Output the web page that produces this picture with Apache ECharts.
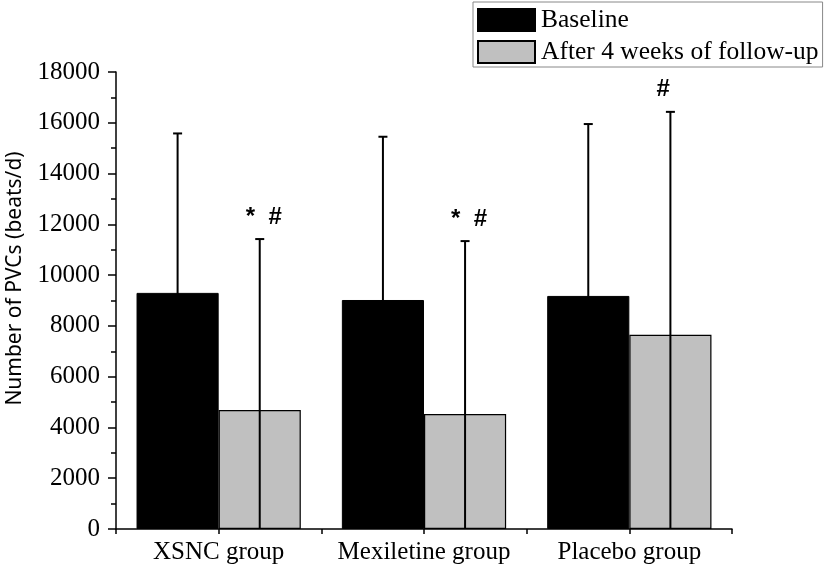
<!DOCTYPE html>
<html>
<head>
<meta charset="utf-8">
<script src="https://cdn.jsdelivr.net/npm/echarts@6/dist/echarts.min.js"></script>
<style>
html,body{margin:0;padding:0;background:#fff;}
#chart{width:827px;height:574px;}
</style>
</head>
<body>
<div id="chart"></div>
<script>
var categories = ['XSNC group', 'Mexiletine group', 'Placebo group'];
var seriesNames = ['Baseline', 'After 4 weeks of follow-up'];
var baselineMean = [9300, 9020, 9180];
var baselineSD = [6280, 6430, 6770];
var afterMean = [4690, 4530, 7650];
var afterSD = [6730, 6810, 8780];
var afterMarks = ['*  #', '*  #', '#'];
var yTicks = [0, 2000, 4000, 6000, 8000, 10000, 12000, 14000, 16000, 18000];

var chart = echarts.init(document.getElementById('chart'), null, {renderer: 'canvas'});

function errData(means, sds) {
  return means.map(function (m, i) { return [i, m, sds[i]]; });
}

function errRender(side) {
  return function (params, api) {
    var idx = api.value(0);
    var top = api.value(1) + api.value(2);
    var base = api.coord([idx, 0]);
    var catW = api.size([1, 0])[0];
    var x = base[0] + side * catW * 0.2;
    var yTop = api.coord([idx, top])[1];
    var style = {stroke: '#000', lineWidth: 2};
    return {
      type: 'group',
      children: [
        {type: 'line', shape: {x1: x, y1: base[1], x2: x, y2: yTop}, style: style},
        {type: 'line', shape: {x1: x - 4.5, y1: yTop, x2: x + 4.5, y2: yTop}, style: style}
      ]
    };
  };
}

var markData = afterMean.map(function (m, i) { return [i, m + afterSD[i], afterMarks[i]]; });

var option = {
  backgroundColor: '#fff',
  animation: false,
  grid: {left: 116, right: 95, top: 72, bottom: 45, outerBoundsMode: 'none', containLabel: false},
  legend: {
    orient: 'vertical',
    left: 473,
    top: 2,
    padding: [5, 4, 2, 4],
    itemGap: 6,
    itemWidth: 57,
    itemHeight: 22,
    borderColor: '#888',
    borderWidth: 1,
    icon: 'rect',
    data: seriesNames,
    textStyle: {fontFamily: 'Liberation Serif', fontSize: 25.5, color: '#000', padding: [0, 0, 0, 1]}
  },
  xAxis: [{
    type: 'category',
    data: categories,
    axisLine: {lineStyle: {color: '#000', width: 1.5}},
    axisTick: {show: true, length: 5, lineStyle: {color: '#000', width: 1.5}},
    axisLabel: {fontFamily: 'Liberation Serif', fontSize: 25, color: '#000', margin: 11, interval: 0}
  }, {
    type: 'category',
    data: categories,
    position: 'bottom',
    axisLine: {show: false},
    axisTick: {show: true, alignWithLabel: true, length: 5, lineStyle: {color: '#000', width: 1.5}},
    axisLabel: {show: false}
  }],
  yAxis: {
    type: 'value',
    min: 0,
    max: 18000,
    interval: 2000,
    name: 'Number of PVCs (beats/d)',
    nameLocation: 'middle',
    nameGap: 90,
    nameTextStyle: {fontFamily: 'Noto Sans', fontSize: 21, color: '#000', padding: [0, 0, 0, 44]},
    axisLine: {show: true, lineStyle: {color: '#000', width: 1.5}},
    axisTick: {show: true, length: 8, lineStyle: {color: '#000', width: 1.5}},
    minorTick: {show: true, splitNumber: 2, length: 5, lineStyle: {color: '#000', width: 1.5}},
    splitLine: {show: false},
    axisLabel: {
      fontFamily: 'Liberation Serif', fontSize: 25, color: '#000', margin: 16,
      formatter: function (v) { return yTicks.indexOf(v) >= 0 ? String(v) : ''; }
    }
  },
  series: [{
    name: seriesNames[0],
    type: 'bar',
    data: baselineMean,
    barGap: '0%',
    barCategoryGap: '20%',
    itemStyle: {color: '#000', borderColor: '#000', borderWidth: 1}
  }, {
    name: seriesNames[1],
    type: 'bar',
    data: afterMean,
    barGap: '0%',
    barCategoryGap: '20%',
    itemStyle: {color: '#c0c0c0', borderColor: '#000', borderWidth: 1.2}
  }, {
    type: 'custom',
    name: 'err0',
    renderItem: errRender(-1),
    data: errData(baselineMean, baselineSD),
    z: 5
  }, {
    type: 'custom',
    name: 'err1',
    renderItem: errRender(1),
    data: errData(afterMean, afterSD),
    z: 5
  }, {
    type: 'custom',
    name: 'marks',
    renderItem: function (params, api) {
      var idx = api.value(0);
      var p = api.coord([idx, api.value(1)]);
      var catW = api.size([1, 0])[0];
      var x = p[0] + catW * 0.2;
      return {
        type: 'text',
        style: {
          x: x - 14, y: p[1] - 22,
          text: markData[params.dataIndex][2],
          fontFamily: 'Liberation Sans',
          fontSize: 24,
          fontWeight: 'bold',
          fill: '#000',
          align: 'left',
          verticalAlign: 'middle'
        }
      };
    },
    data: markData,
    z: 6
  }]
};
chart.setOption(option);
</script>
</body>
</html>
